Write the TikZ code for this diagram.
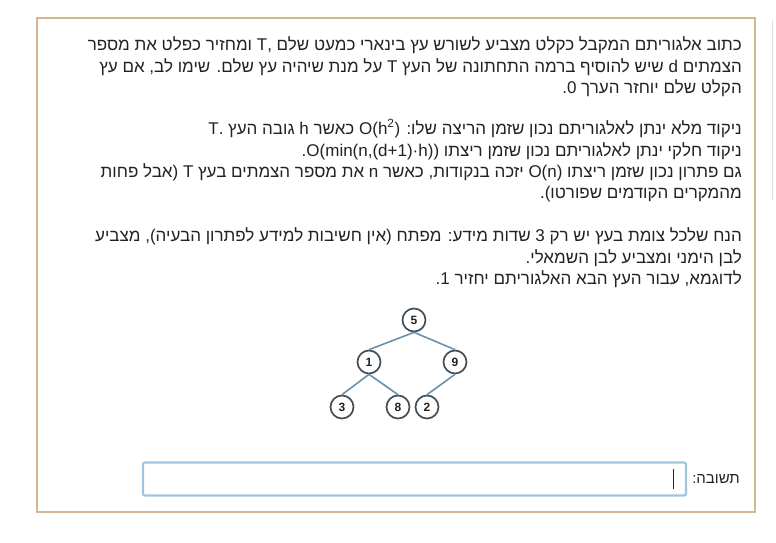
\documentclass[tikz,border=0pt]{standalone}
\usepackage{fontspec}
\setmainfont{Liberation Sans}
\newfontfamily\hebfont[Script=Hebrew]{Liberation Sans}
\newfontfamily\latfont{Liberation Sans}
\TeXXeTstate=1
\newcommand{\heb}[1]{{\hebfont\beginR #1\endR}}
\newcommand{\lat}[1]{{\latfont\beginL #1\endL}}
\definecolor{frametan}{HTML}{D6B592}
\definecolor{txtgray}{HTML}{222222}
\definecolor{edgeblue}{HTML}{6A91AC}
\definecolor{vtxgray}{HTML}{434F59}
\definecolor{boxblue}{HTML}{9FC4DB}

\begin{document}
\begin{tikzpicture}[x=1pt,y=-1pt,
    txt/.style={anchor=base east,inner sep=0pt,text=txtgray,font=\fontsize{17}{21}\selectfont},
    vtx/.style={circle,draw=vtxgray,line width=1.7pt,fill=white,minimum size=23pt,inner sep=0pt,
                text=txtgray,font=\bfseries\fontsize{12}{12}\selectfont},
    edge/.style={draw=edgeblue,line width=1.6pt},
    ansbox/.style={draw=boxblue,line width=2.2pt,rounded corners=2pt,minimum width=543pt,minimum height=33pt}]
    \useasboundingbox (0,0) rectangle (776,543);
    \draw[frametan,line width=1.8pt] (37,18) rectangle (755,512);
    \draw[gray!25,line width=0.8pt] (772,20) -- (772,200);

    % task text
    \node[txt] (l1) at (742,51) {\heb{כתוב אלגוריתם המקבל כקלט מצביע לשורש עץ בינארי כמעט שלם T, ומחזיר כפלט את מספר}};
    \node[txt] (l2) at (742,72) {\heb{הצמתים d שיש להוסיף ברמה התחתונה של העץ T על מנת שיהיה עץ שלם. שימו לב, אם עץ}};
    \node[txt] (l3) at (742,93) {\heb{הקלט שלם יוחזר הערך 0.}};

    \node[txt] (l4) at (742,134) {\heb{ניקוד מלא ינתן לאלגוריתם נכון שזמן הריצה שלו: \lat{O(h\textsuperscript{2})} כאשר h גובה העץ T.}};
    \node[txt] (l5) at (742,156) {\heb{ניקוד חלקי ינתן לאלגוריתם נכון שזמן ריצתו \lat{O(min(n,(d+1)·h))}.}};
    \node[txt] (l6) at (742,177) {\heb{גם פתרון נכון שזמן ריצתו \lat{O(n)} יזכה בנקודות, כאשר n את מספר הצמתים בעץ T (אבל פחות}};
    \node[txt] (l7) at (742,198) {\heb{מהמקרים הקודמים שפורטו).}};

    \node[txt] (l8) at (742,241) {\heb{הנח שלכל צומת בעץ יש רק 3 שדות מידע: מפתח (אין חשיבות למידע לפתרון הבעיה), מצביע}};
    \node[txt] (l9) at (742,263) {\heb{לבן הימני ומצביע לבן השמאלי.}};
    \node[txt] (l10) at (742,284) {\heb{לדוגמא, עבור העץ הבא האלגוריתם יחזיר 1.}};

    % example tree
    \node[vtx] (n5) at (414,320) {5};
    \node[vtx] (n1) at (369,362) {1};
    \node[vtx] (n9) at (455,362) {9};
    \node[vtx] (n3) at (342,407) {3};
    \node[vtx] (n8) at (398,407) {8};
    \node[vtx] (n2) at (427,407) {2};
    \foreach \a/\b in {n5/n1,n5/n9,n1/n3,n1/n8,n9/n2} {
        \draw[edge] (\a.south) -- (\b.north);
    };

    % answer field
    \node[ansbox] (ans) at (414.5,479) {};
    \draw[txtgray,line width=0.8pt] ([xshift=-14pt,yshift=-10pt]ans.east) -- ([xshift=-14pt,yshift=10pt]ans.east);
    \node[txt,anchor=east,font=\fontsize{15}{15}\selectfont] (lbl) at (740,479) {\heb{תשובה:}};
\end{tikzpicture}
\end{document}
